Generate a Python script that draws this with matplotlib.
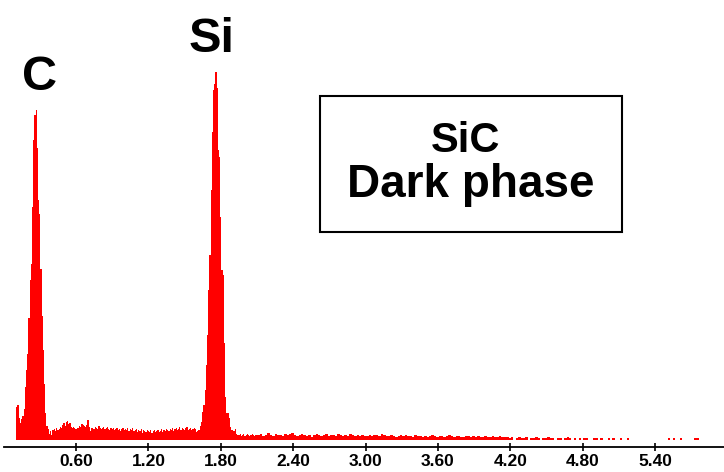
import numpy as np
import matplotlib.pyplot as plt
from matplotlib.patches import Rectangle

plt.rcParams['font.family'] = ['Liberation Sans', 'DejaVu Sans']

# EDS spectrum, counts (arbitrary units)
# 0.01 keV channels, first channel centred on 0.11 keV
fine_counts = [
    33, 35, 22, 17, 21, 24, 31, 53, 70, 86,
    122, 160, 176, 233, 300, 325, 330, 292, 240, 226,
    171, 124, 90, 56, 27, 14, 11, 6, 9, 5,
    10, 11, 9, 12, 10, 11, 13, 12, 15, 17,
    14, 18, 19, 16, 17, 13, 12, 13, 12, 11,
    12, 12, 14, 13, 16, 15, 14, 13, 15, 20,
    13, 9, 12, 12, 11, 13, 12, 11, 14, 12,
    11, 12, 13, 11, 12, 13, 11, 10, 12, 11,
    12, 10, 11, 12, 10, 11, 9, 11, 12, 10,
    11, 10, 12, 9, 11, 10, 12, 9, 10, 11,
    8, 10, 9, 11, 7, 10, 9, 8, 10, 9,
    8, 10, 7, 9, 10, 8, 9, 10, 8, 9,
    11, 8, 10, 9, 11, 10, 9, 11, 10, 12,
    9, 11, 12, 10, 11, 13, 10, 12, 11, 10,
    12, 13, 10, 11, 12, 10, 11, 12, 11, 8,
    9, 10, 14, 18, 28, 35, 50, 75, 105, 150,
    185, 250, 308, 350, 356, 368, 352, 290, 283, 223,
    170, 165, 97, 43, 27, 27, 22, 13, 10, 10,
    9, 11, 6, 5, 5, 6, 4, 5, 6, 4,
    5, 6, 5, 4, 5, 6, 5, 4, 5, 5,
]
# 0.02 keV channels from 2.105 keV on
coarse_counts = [
    5, 6, 4, 5, 7, 5, 4, 6, 5, 5, 4, 6, 5, 6, 7, 5, 4, 5, 6, 5,
    4, 5, 3, 5, 6, 5, 4, 5, 6, 4, 5, 5, 4, 6, 5, 4, 5, 4, 6, 5,
    4, 5, 4, 5, 4,
    4, 5, 4, 5, 5, 4, 6, 5, 4, 4, 5, 4, 3, 4, 5, 4, 5, 4, 4, 3,
    5, 4, 4, 3, 4,
    3, 4, 5, 4, 3, 4, 4, 3, 4, 5, 4, 3, 4, 4, 3, 3, 4, 4, 3, 4,
    3, 4, 3, 3, 4, 3, 3, 4, 3, 3, 4, 3, 3,
    3, 2, 3, 0, 2, 3, 2, 2, 3, 0, 2, 2, 3, 2, 0, 2, 2, 3, 2, 2,
    0, 2, 2, 0, 2, 3, 2, 0, 2,
    0, 2, 0, 2, 2, 0, 0, 2, 2, 0, 2, 0, 0, 2, 0, 2, 0, 0, 2, 0,
    0, 2, 0, 0, 0, 0, 0, 0, 0,
    0, 0, 0, 0, 0, 0, 0, 0, 0, 2, 0, 2, 0, 0, 2, 0, 0, 0, 0, 0,
    2, 2, 0, 0,
]
tick_values = [0.60, 1.20, 1.80, 2.40, 3.00, 3.60, 4.20, 4.80, 5.40]
tick_labels = ['0.60', '1.20', '1.80', '2.40', '3.00', '3.60', '4.20', '4.80', '5.40']

fine_edges = 0.105 + 0.01 * np.arange(len(fine_counts) + 1)
coarse_edges = fine_edges[-1] + 0.02 * np.arange(len(coarse_counts) + 1)
edges = np.concatenate([fine_edges, coarse_edges[1:]])
counts = np.array(fine_counts + coarse_counts, dtype=float)

W, H = 724, 472
fig = plt.figure(figsize=(W / 100, H / 100), dpi=100)
ax = fig.add_axes([3.6 / W, (H - 447) / H, (W - 3.6) / W, 447 / H])

ax.stairs(counts, edges, fill=True, color='#ff0000', linewidth=0)

ax.set_xlim(0, 5.97)
ax.set_ylim(-7, 440)
for s in ['top', 'right', 'left']:
    ax.spines[s].set_visible(False)
ax.spines['bottom'].set_linewidth(1.3)
ax.set_yticks([])
ax.set_xticks(tick_values)
ax.set_xticklabels(tick_labels, fontsize=12.5, fontweight='bold')
ax.tick_params(axis='x', direction='inout', length=6, width=1.2, pad=2)

# peak labels
ax.text(0.30, 350, 'C', fontsize=35, fontweight='bold', ha='center', va='baseline')
ax.text(1.727, 388, 'Si', fontsize=35, fontweight='bold', ha='center', va='baseline')

# sample box
fig.patches.append(Rectangle((320 / W, 1 - 232 / H), 302 / W, 136 / H,
                             transform=fig.transFigure, fill=False,
                             edgecolor='black', linewidth=1.5))
fig.text(466 / W, 1 - 152 / H, 'SiC', fontsize=30, fontweight='bold',
         ha='center', va='baseline')
fig.text(471 / W, 1 - 197 / H, 'Dark phase', fontsize=33, fontweight='bold',
         ha='center', va='baseline')

fig.savefig('out.png', dpi=100)
